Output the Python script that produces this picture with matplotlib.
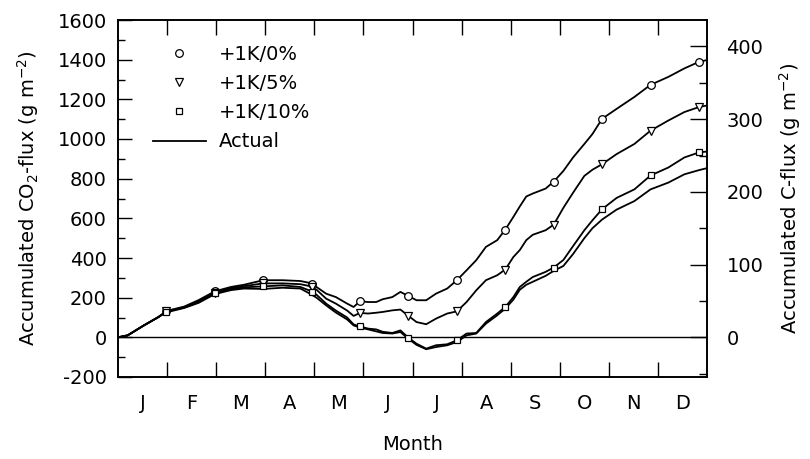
import numpy as np
import matplotlib
matplotlib.use("Agg")
import matplotlib.pyplot as plt
from matplotlib.lines import Line2D
from matplotlib.ticker import FixedLocator, MultipleLocator, NullFormatter, FixedFormatter

plt.rcParams['font.family'] = ['DejaVu Sans']
plt.rcParams['axes.unicode_minus'] = False

# ---- data (day of year, accumulated CO2 flux g m-2) ----
days = [0, 6, 16, 25, 30, 41, 50, 60, 70, 78, 90, 102, 113, 119, 123, 129, 135, 142, 146,
        150, 155, 160, 164, 170, 175, 180, 185, 191, 197, 204, 210, 216, 222, 228, 235,
        240, 245, 249, 253, 257, 265, 270, 276, 282, 289, 294, 300, 309, 320, 330, 341,
        351, 360, 365]

k1_0 = [0, 10, 60, 102, 133, 155, 188, 232, 254, 265, 288, 288, 284, 274, 254, 220, 203, 170, 153,
        182, 178, 178, 192, 203, 229, 208, 187, 187, 220, 246, 288, 338, 389, 456, 490,
        543, 607, 660, 710, 725, 750, 785, 839, 907, 975, 1025, 1102, 1152, 1212, 1273, 1313,
        1356, 1389, 1398]

k1_5 = [0, 10, 60, 102, 131, 152, 182, 226, 248, 258, 272, 272, 268, 258, 240, 195, 170, 135, 108,
        123, 120, 124, 128, 136, 140, 108, 77, 66, 94, 120, 131, 178, 237, 288, 313,
        342, 405, 440, 490, 517, 540, 568, 653, 729, 814, 845, 873, 924, 975, 1042, 1093,
        1136, 1161, 1169]

k1_10 = [0, 10, 60, 102, 129, 150, 178, 222, 243, 252, 257, 262, 254, 235, 215, 170, 135, 100, 65,
         55, 44, 40, 28, 22, 35, -2, -32, -57, -40, -35, -15, 19, 22, 77, 120,
         153, 203, 254, 280, 304, 330, 352, 390, 460, 540, 590, 646, 703, 746, 816, 856,
         907, 932, 937]

actual = [0, 10, 60, 102, 126, 148, 174, 218, 238, 246, 244, 250, 246, 220, 200, 161, 125, 90, 60,
          49, 40, 30, 22, 19, 27, -8, -38, -60, -49, -40, -24, 10, 19, 69, 111,
          145, 190, 240, 265, 280, 310, 335, 360, 420, 500, 550, 594, 644, 687, 746, 780,
          822, 843, 853]

marker_days = [30, 60, 90, 120, 150, 180, 210, 240, 270, 300, 330, 360]
months = ['J', 'F', 'M', 'A', 'M', 'J', 'J', 'A', 'S', 'O', 'N', 'D']
series_labels = ['+1K/0%', '+1K/5%', '+1K/10%', 'Actual']

FS = 14

fig = plt.figure(figsize=(8.1, 4.59), dpi=100)
ax = fig.add_axes([118/810, 1-377/459, 589/810, 357/459])

lw = 1.3
series = [(k1_0, 'o'), (k1_5, 'v'), (k1_10, 's')]
for vals, mk in series:
    ax.plot(days, vals, color='black', lw=lw, zorder=3)
    my = np.interp(marker_days, days, vals)
    ax.plot(marker_days, my, linestyle='none', marker=mk, ms=5.5 if mk != 's' else 5,
            mfc='white', mec='black', mew=0.9, zorder=4)
ax.plot(days, actual, color='black', lw=lw, zorder=3)

ax.axhline(0, color='black', lw=1.0, zorder=2)

ax.set_xlim(0, 365)
ax.set_ylim(-200, 1600)

# x ticks: boundaries (major, inward), labels at mid-month (minor)
mlen = 365/12
ax.xaxis.set_major_locator(FixedLocator([mlen*k for k in range(1, 12)]))
ax.xaxis.set_major_formatter(NullFormatter())
ax.xaxis.set_minor_locator(FixedLocator([mlen*(k+0.5) for k in range(12)]))
ax.xaxis.set_minor_formatter(FixedFormatter(months))
ax.tick_params(axis='x', which='major', direction='in', length=11, width=1.0, top=True, bottom=True)
ax.tick_params(axis='x', which='minor', length=0, pad=12, labelsize=FS)

ax.yaxis.set_major_locator(MultipleLocator(200))
ax.yaxis.set_minor_locator(MultipleLocator(100))
ax.tick_params(axis='y', which='major', direction='in', length=10, width=1.0, labelsize=FS, pad=8)
ax.tick_params(axis='y', which='minor', direction='in', length=5, width=1.0)
ax.tick_params(axis='y', right=False, which='both')

ax.set_ylabel('Accumulated CO$_2$-flux (g m$^{-2}$)', fontsize=FS, labelpad=12)
ax.set_xlabel('Month', fontsize=FS, labelpad=16)

for s in ax.spines.values():
    s.set_linewidth(1.2)

# right axis in g C
ax2 = ax.twinx()
ax2.set_ylim(-200*12/44, 1600*12/44)
ax2.yaxis.set_major_locator(MultipleLocator(100))
ax2.yaxis.set_minor_locator(MultipleLocator(50))
ax2.tick_params(axis='y', which='major', direction='in', length=12, width=1.0, labelsize=FS, pad=14)
ax2.tick_params(axis='y', which='minor', direction='in', length=6, width=1.0)
ax2.set_ylabel('Accumulated C-flux (g m$^{-2}$)', fontsize=FS, labelpad=10)
for s in ax2.spines.values():
    s.set_linewidth(1.2)

handles = [
    Line2D([], [], linestyle='none', marker='o', ms=5.5, mfc='white', mec='black', mew=0.9),
    Line2D([], [], linestyle='none', marker='v', ms=5.5, mfc='white', mec='black', mew=0.9),
    Line2D([], [], linestyle='none', marker='s', ms=5, mfc='white', mec='black', mew=0.9),
    Line2D([], [], color='black', lw=lw),
]
leg = ax.legend(handles, series_labels, loc='upper left',
                bbox_to_anchor=((153-118)/589, 1-(45-20)/357),
                frameon=False, fontsize=FS, borderpad=0, borderaxespad=0,
                handlelength=2.7, handletextpad=0.7, labelspacing=0.52, numpoints=1)

fig.savefig('out.png', dpi=100)
